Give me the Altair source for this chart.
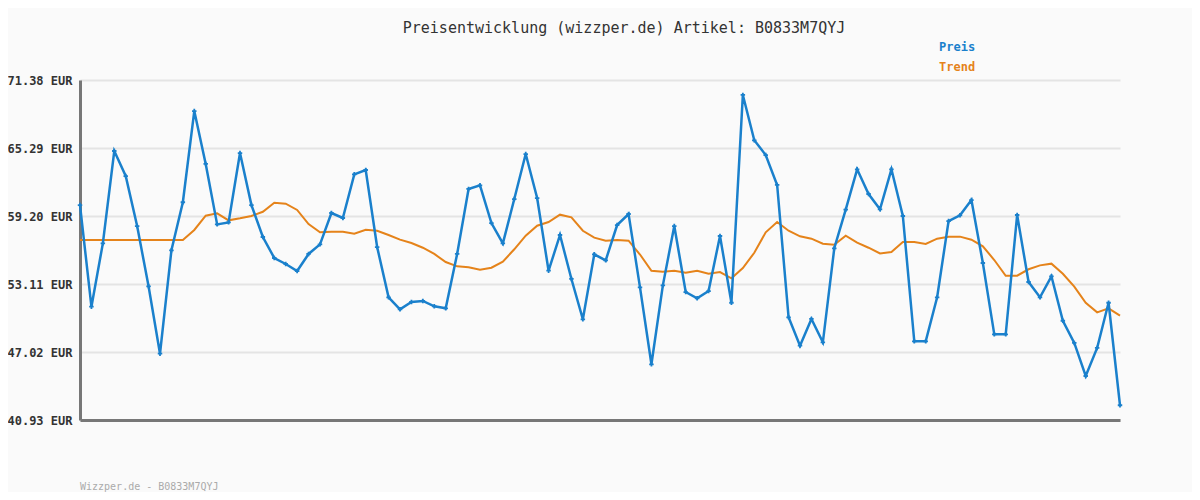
import altair as alt
import pandas as pd

preis = [60.18, 51.08, 56.75, 65.02, 62.78, 58.30, 52.90, 46.87, 56.13, 60.43,
         68.60, 63.86, 58.45, 58.63, 64.84, 60.18, 57.32, 55.44, 54.90, 54.27,
         55.80, 56.66, 59.47, 59.02, 62.93, 63.32, 56.42, 51.92, 50.84, 51.50,
         51.59, 51.11, 50.93, 55.80, 61.62, 61.95, 58.57, 56.75, 60.72, 64.75,
         60.81, 54.30, 57.50, 53.56, 49.95, 55.77, 55.23, 58.39, 59.38, 52.81,
         45.92, 52.99, 58.30, 52.39, 51.83, 52.48, 57.41, 51.43, 70.04, 65.98,
         64.66, 61.98, 50.13, 47.59, 49.98, 47.89, 56.31, 59.77, 63.38, 61.17,
         59.80, 63.38, 59.20, 47.98, 47.98, 51.92, 58.75, 59.26, 60.63, 54.99,
         48.60, 48.60, 59.29, 53.29, 51.92, 53.80, 49.82, 47.83, 44.87, 47.38,
         51.43, 42.25]

trend = [57.05, 57.05, 57.05, 57.05, 57.05, 57.05, 57.05, 57.05, 57.05, 57.05,
         57.95, 59.23, 59.44, 58.81, 58.99, 59.20, 59.58, 60.39, 60.30, 59.74,
         58.48, 57.74, 57.79, 57.79, 57.61, 57.97, 57.88, 57.50, 57.08, 56.78,
         56.36, 55.80, 55.08, 54.69, 54.60, 54.39, 54.57, 55.11, 56.22, 57.44,
         58.33, 58.66, 59.32, 59.08, 57.88, 57.26, 56.99, 57.05, 56.99, 55.75,
         54.30, 54.21, 54.30, 54.12, 54.30, 54.03, 54.18, 53.62, 54.54, 55.91,
         57.74, 58.66, 57.88, 57.38, 57.17, 56.72, 56.63, 57.44, 56.81, 56.36,
         55.85, 55.97, 56.87, 56.87, 56.69, 57.17, 57.35, 57.35, 57.08, 56.48,
         55.26, 53.85, 53.85, 54.43, 54.78, 54.93, 54.03, 52.87, 51.43, 50.57,
         50.93, 50.27]

y_ticks = [40.93, 47.02, 53.11, 59.20, 65.29, 71.38]
series_names = ["Preis", "Trend"]
series_colors = ["#1a80cc", "#e5831a"]
title_text = "Preisentwicklung (wizzper.de) Artikel: B0833M7QYJ"
footer_text = "Wizzper.de - B0833M7QYJ"

df = pd.DataFrame({"i": list(range(len(preis))), "Preis": preis, "Trend": trend})

FONT = "DejaVu Sans Mono"

x_enc = alt.X("i:Q", scale=alt.Scale(domain=[0, len(preis) - 1], nice=False),
              axis=alt.Axis(title=None, labels=False, ticks=False, grid=False,
                            domainColor="#777777", domainWidth=3))
y_scale = alt.Scale(domain=[y_ticks[0], y_ticks[-1]], nice=False, zero=False)
y_axis = alt.Axis(title=None, values=y_ticks, labelExpr="format(datum.value, '.2f') + ' EUR'",
                  labelFont=FONT, labelFontSize=12, labelFontWeight="bold", labelColor="#333333",
                  labelPadding=8, ticks=False, grid=True, gridColor="#e4e4e4", gridWidth=2,
                  domainColor="#777777", domainWidth=3)

base = alt.Chart(df)

trend_line = base.mark_line(color=series_colors[1], strokeWidth=2).encode(
    x=x_enc, y=alt.Y("Trend:Q", scale=y_scale, axis=y_axis))

preis_line = base.mark_line(color=series_colors[0], strokeWidth=2.5,
                            point=alt.OverlayMarkDef(shape="cross", size=20, color=series_colors[0],
                                                     filled=True)).encode(
    x=x_enc, y=alt.Y("Preis:Q", scale=y_scale, axis=y_axis))

title_mark = alt.Chart(df.head(1)).mark_text(font=FONT, fontSize=15, color="#333333",
                                             align="center", baseline="middle").encode(
    x=alt.value(544), y=alt.value(-52), text=alt.value(title_text))

leg1 = alt.Chart(df.head(1)).mark_text(font=FONT, fontSize=12, fontWeight="bold",
                                       color=series_colors[0], align="left", baseline="middle").encode(
    x=alt.value(859), y=alt.value(-33), text=alt.value(series_names[0]))
leg2 = alt.Chart(df.head(1)).mark_text(font=FONT, fontSize=12, fontWeight="bold",
                                       color=series_colors[1], align="left", baseline="middle").encode(
    x=alt.value(859), y=alt.value(-13), text=alt.value(series_names[1]))

footer = alt.Chart(df.head(1)).mark_text(font=FONT, fontSize=10, color="#aaaaaa",
                                         align="left", baseline="middle").encode(
    x=alt.value(0), y=alt.value(407), text=alt.value(footer_text))

chart = alt.layer(trend_line, preis_line, title_mark, leg1, leg2, footer).properties(
    width=1040, height=340,
    autosize=alt.AutoSizeParams(type="none"),
    padding={"left": 72, "top": 72, "right": 72, "bottom": 72},
    background="#fafafa",
).configure_view(stroke=None, fill="#fafafa")

chart.save("out.html", embed_options={"renderer": "svg", "actions": False})
